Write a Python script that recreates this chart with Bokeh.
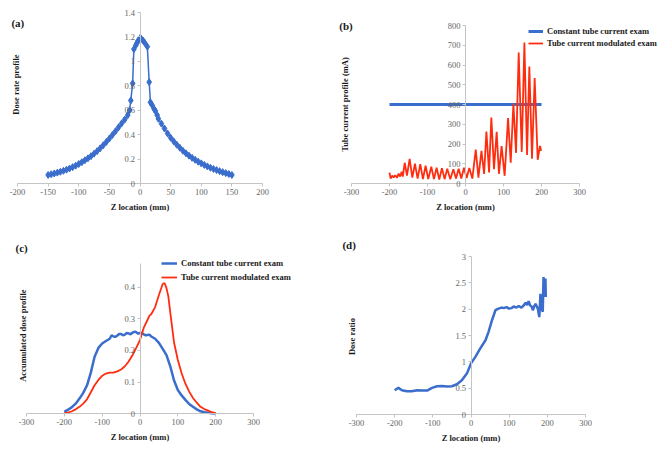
from bokeh.plotting import figure
from bokeh.models import Range1d, FixedTicker, NumeralTickFormatter, Label, Legend, LegendItem
from bokeh.layouts import column, row
from bokeh.embed import file_html
from bokeh.resources import INLINE
from math import pi

# ---------------- data ----------------
# (a) dose rate profile
za = [-150, -145, -140, -135, -130, -125, -120, -115, -110, -105, -100, -95, -90, -85, -80,
      -75, -70, -65, -60, -55, -50, -45, -40, -35, -30, -25, -20, -17, -15, -12, -10, -7, -5,
      -3, 0, 2, 5, 8, 12, 15, 17, 20, 23, 25, 28, 30, 35, 40, 45, 50, 55, 60, 65, 70, 75,
      80, 85, 90, 95, 100, 105, 110, 115, 120, 125, 130, 135, 140, 145, 150]
dose_a = [0.070, 0.076, 0.082, 0.089, 0.096, 0.104, 0.113, 0.123, 0.134, 0.146, 0.160, 0.174,
          0.190, 0.206, 0.224, 0.244, 0.265, 0.288, 0.313, 0.340, 0.368, 0.398, 0.428, 0.460,
          0.492, 0.523, 0.560, 0.600, 0.680, 0.820, 1.100, 1.130, 1.150, 1.170, 1.190, 1.185,
          1.170, 1.150, 1.120, 0.830, 0.665, 0.640, 0.610, 0.595, 0.560, 0.530, 0.490, 0.450,
          0.410, 0.375, 0.345, 0.318, 0.293, 0.268, 0.247, 0.228, 0.210, 0.194, 0.179, 0.165,
          0.152, 0.140, 0.129, 0.119, 0.110, 0.101, 0.093, 0.085, 0.078, 0.070]
xticks_a = [-200, -150, -100, -50, 0, 50, 100, 150, 200]
yticks_a = [0, 0.2, 0.4, 0.6, 0.8, 1, 1.2, 1.4]

# (b) tube current profile
zb_const = [-200, 200]
mA_const = [400, 400]
zb = [-200, -197, -193, -189, -185, -180, -176, -172, -168, -165, -160, -154, -147, -140, -133,
      -126, -119, -112, -105, -98, -90, -83, -76, -69, -62, -55, -48, -40, -32, -25, -18, -11,
      -4, 3, 10, 18, 27, 34, 42, 49, 55, 62, 68, 75, 82, 88, 95, 103, 112, 119, 126, 133, 140,
      148, 155, 162, 168, 175, 182, 190, 196, 199]
mA_tcm = [55, 25, 40, 30, 42, 30, 50, 35, 60, 35, 105, 40, 125, 30, 100, 25, 98, 22, 90, 22, 85,
          22, 80, 20, 78, 22, 75, 22, 72, 25, 75, 25, 80, 28, 78, 25, 172, 30, 165, 48, 263, 56,
          334, 73, 262, 49, 190, 39, 331, 105, 405, 155, 663, 160, 714, 145, 592, 125, 534, 120,
          190, 165]
xticks_b = [-300, -200, -100, 0, 100, 200, 300]
yticks_b = [0, 100, 200, 300, 400, 500, 600, 700, 800]

# (c) accumulated dose profile
zc_const = [-200, -190, -180, -170, -160, -150, -140, -130, -120, -110, -100, -90, -80, -75, -70,
            -65, -60, -55, -50, -45, -40, -35, -30, -25, -20, -15, -10, -5, 0, 5, 10, 15, 20, 25,
            30, 40, 50, 60, 70, 80, 90, 100, 110, 120, 130, 140, 150, 160, 170, 180, 190, 200]
acc_const = [0.006, 0.013, 0.021, 0.032, 0.048, 0.066, 0.090, 0.130, 0.180, 0.208, 0.222, 0.230,
             0.237, 0.248, 0.244, 0.243, 0.247, 0.252, 0.252, 0.248, 0.250, 0.255, 0.254, 0.251,
             0.256, 0.259, 0.258, 0.253, 0.255, 0.255, 0.251, 0.248, 0.249, 0.250, 0.244, 0.237,
             0.224, 0.205, 0.185, 0.150, 0.105, 0.075, 0.058, 0.044, 0.031, 0.022, 0.014, 0.008,
             0.005, 0.003, 0.002, 0.001]
zc_tcm = [-200, -190, -180, -170, -160, -150, -140, -130, -120, -110, -100, -90, -80, -70, -60,
          -50, -40, -30, -20, -10, 0, 10, 20, 25, 30, 40, 50, 60, 65, 70, 75, 80, 90, 100, 110,
          120, 130, 140, 150, 160, 170, 180, 190, 200]
acc_tcm = [0.002, 0.004, 0.008, 0.014, 0.022, 0.032, 0.046, 0.068, 0.090, 0.107, 0.120, 0.127,
           0.130, 0.130, 0.134, 0.140, 0.150, 0.165, 0.185, 0.208, 0.233, 0.272, 0.297, 0.310,
           0.315, 0.337, 0.375, 0.410, 0.413, 0.397, 0.370, 0.320, 0.225, 0.170, 0.128, 0.095,
           0.070, 0.050, 0.035, 0.022, 0.015, 0.010, 0.005, 0.002]
xticks_c = [-300, -200, -100, 0, 100, 200, 300]
yticks_c = [0, 0.1, 0.2, 0.3, 0.4]

# (d) dose ratio
zd = [-200, -194, -190, -181, -168, -155, -141, -128, -115, -102, -89, -76, -63, -50, -37, -24,
      -10, 0, 11, 24, 38, 46, 55, 64, 72, 80, 86, 93, 99, 106, 112, 119, 125, 132, 138, 143, 147,
      151, 155, 159, 162, 166, 169, 172, 175, 179, 182, 184, 188, 190, 193, 195, 196]
ratio_d = [0.46, 0.49, 0.505, 0.46, 0.44, 0.44, 0.46, 0.455, 0.455, 0.505, 0.537, 0.543, 0.53,
           0.537, 0.575, 0.65, 0.79, 0.97, 1.09, 1.25, 1.41, 1.57, 1.79, 1.98, 2.01, 2.03, 2.02,
           2.04, 2.01, 2.02, 2.05, 2.03, 2.06, 2.03, 2.07, 2.12, 2.08, 2.15, 2.07, 2.05, 1.98,
           2.06, 2.1, 2.06, 2.01, 1.85, 2.29, 2.04, 1.95, 2.61, 2.23, 2.58, 2.23]
xticks_d = [-300, -200, -100, 0, 100, 200, 300]
yticks_d = [0, 0.5, 1, 1.5, 2, 2.5, 3]

# ---------------- style ----------------
SERIF = "Liberation Serif"
BLUE = "#3a6dcc"
RED = "#ff2d10"
AXIS = "#c4c4c4"
TICK_TXT = "#666666"
TITLE_TXT = "#1a1a1a"


def span(d0, p0, d1, p1, size):
    """Range so that value d0 sits at pixel p0 and d1 at p1 in a canvas of `size` px."""
    s = (p1 - p0) / (d1 - d0)
    a = d0 + (0 - p0) / s
    b = d0 + (size - p0) / s
    return (min(a, b), max(a, b))


def make_fig(w, h, xb, yb, xpx, ypx, xticks, yticks):
    xr = span(xb[0], xpx[0], xb[1], xpx[1], w)
    yr = span(yb[0], ypx[0], yb[1], ypx[1], h)
    p = figure(width=w, height=h, x_range=Range1d(*xr), y_range=Range1d(*yr),
               output_backend="svg", toolbar_location=None,
               min_border_left=0, min_border_right=0, min_border_top=0, min_border_bottom=0)
    p.grid.visible = False
    p.outline_line_color = None
    p.background_fill_color = "white"
    p.border_fill_color = "white"
    xa = p.xaxis[0]
    ya = p.yaxis[0]
    xa.ticker = FixedTicker(ticks=xticks)
    ya.ticker = FixedTicker(ticks=yticks)
    xa.fixed_location = 0
    ya.fixed_location = 0
    xa.bounds = tuple(xb)
    ya.bounds = tuple(yb)
    for ax in (xa, ya):
        ax.formatter = NumeralTickFormatter(format="0.[0]")
        ax.axis_line_color = AXIS
        ax.axis_line_width = 1
        ax.major_tick_line_color = AXIS
        ax.major_tick_out = 3
        ax.major_tick_in = 0
        ax.minor_tick_line_color = None
        ax.major_label_text_font = SERIF
        ax.major_label_text_font_size = "8.5px"
        ax.major_label_text_color = TICK_TXT
        ax.major_label_standoff = 2
    xa.axis_label = "Z location (mm)"
    xa.axis_label_text_font = SERIF
    xa.axis_label_text_font_style = "bold"
    xa.axis_label_text_font_size = "8.5px"
    xa.axis_label_text_color = TITLE_TXT
    xa.axis_label_standoff = 4
    return p


def add_texts(p, letter, lx, ly, ytitle, tx, ty):
    p.add_layout(Label(x=lx, y=ly, text=letter, text_font=SERIF, text_font_style="bold",
                       text_font_size="11px", text_color=TITLE_TXT,
                       text_align="left", text_baseline="middle"))
    p.add_layout(Label(x=tx, y=ty, text=ytitle, angle=pi / 2, text_font=SERIF,
                       text_font_style="bold", text_font_size="8.5px", text_color=TITLE_TXT,
                       text_align="center", text_baseline="middle"))


def add_legend(p, r1, r2, loc, gw, ih):
    leg = Legend(items=[LegendItem(label="Constant tube current exam", renderers=[r1]),
                        LegendItem(label="Tube current modulated exam", renderers=[r2])],
                 location=loc, orientation="vertical", glyph_width=gw, glyph_height=ih,
                 label_height=ih, label_standoff=4, spacing=0, padding=0, margin=0,
                 border_line_color=None, background_fill_alpha=0,
                 label_text_font=SERIF, label_text_font_style="bold",
                 label_text_font_size="8.5px", label_text_color=TITLE_TXT)
    p.add_layout(leg)


W = 331
H_TOP = 221
H_BOT = 226

# (a)
pa = make_fig(W, H_TOP, (-200, 200), (0, 1.4), (17, 262), (183, 12), xticks_a, yticks_a)
pa.line(za, dose_a, line_color=BLUE, line_width=1.5)
pa.scatter(za, dose_a, marker="diamond", size=7, color=BLUE)
add_texts(pa, "(a)", -210, 1.31, "Dose rate profile", -203, 0.81)

# (b)
pb = make_fig(W, H_TOP, (-300, 300), (0, 800), (20, 248), (183, 25), xticks_b, yticks_b)
rb1 = pb.line(zb_const, mA_const, line_color=BLUE, line_width=3)
rb2 = pb.line(zb, mA_tcm, line_color=RED, line_width=1.8)
add_texts(pb, "(b)", -332, 800, "Tube current profile (mA)", -316, 400)
add_legend(pb, rb1, rb2, (197, 172), 15, 12)

# (c)
pc = make_fig(W, H_BOT, (-300, 300), (0, 0.474), (26, 253), (192.3, 42.2), xticks_c, yticks_c)
rc1 = pc.line(zc_const, acc_const, line_color=BLUE, line_width=2.5)
rc2 = pc.line(zc_tcm, acc_tcm, line_color=RED, line_width=1.8)
add_texts(pc, "(c)", -329, 0.525, "Accumulated dose profile", -308, 0.247)
add_legend(pc, rc1, rc2, (161, 163), 16, 14)

# (d)
pd_ = make_fig(W, H_BOT, (-300, 300), (0, 3), (25, 254), (193, 35), xticks_d, yticks_d)
pd_.line(zd, ratio_d, line_color=BLUE, line_width=2.5)
add_texts(pd_, "(d)", -337, 3.21, "Dose ratio", -313, 1.48)

layout = column(row(pa, pb), row(pc, pd_))
open("out.html", "w").write(file_html(layout, INLINE))
